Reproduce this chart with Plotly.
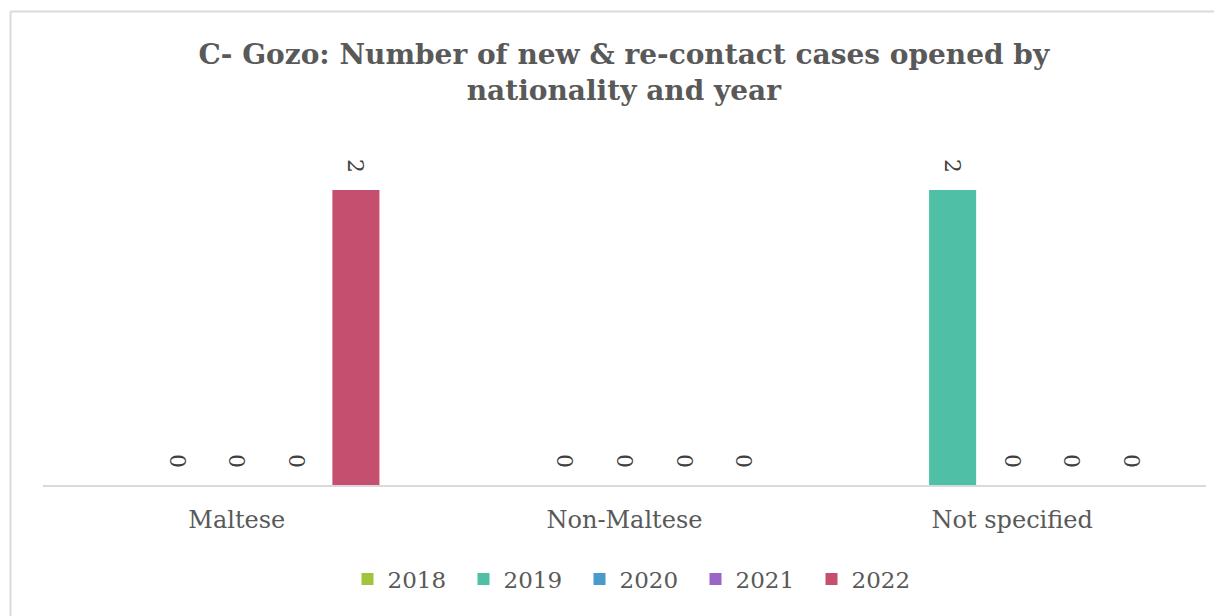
import plotly.graph_objects as go

categories = ["Maltese", "Non-Maltese", "Not specified"]
years = ["2018", "2019", "2020", "2021", "2022"]
values_2018 = [None, None, None]
values_2019 = [0, 0, 2]
values_2020 = [0, 0, 0]
values_2021 = [0, 0, 0]
values_2022 = [2, 0, 0]
series = [values_2018, values_2019, values_2020, values_2021, values_2022]
colors = ["#A0C43C", "#4FBFA5", "#4A9BCC", "#9966C6", "#C54F6F"]

FONT = "DejaVu Serif"
PAD = "\u00a0\u00a0"

fig = go.Figure()
for name, vals, col in zip(years, series, colors):
    fig.add_trace(go.Bar(
        x=categories, y=vals, name=name, marker=dict(color=col, line=dict(width=0)),
        text=[None if v is None else str(v) + PAD for v in vals],
        textposition="outside", textangle=90, constraintext="none", cliponaxis=False,
        textfont=dict(family=FONT, size=22, color="#404040"),
    ))

# page offset of 8px (body margin) compensated
L, R, T, B = 35, 24, 132, 139
W, H = 1222, 616
pw, ph = W - L - R, H - T - B

def px_x(px):
    return (px - L) / pw

def px_y(py):
    return (H - B - py) / ph

fig.update_layout(
    width=W, height=H,
    margin=dict(l=L, r=R, t=T, b=B),
    paper_bgcolor="white", plot_bgcolor="white",
    barmode="group", bargap=0.232, bargroupgap=0.21,
    title=dict(
        text="<b>C- Gozo: Number of new & re-contact cases opened by<br>nationality and year</b>",
        x=0.504, xanchor="center", y=0.909, yanchor="middle",
        font=dict(family=FONT, size=28, color="#595959"),
    ),
    showlegend=True,
    legend=dict(
        orientation="h", x=px_x(629.5), xanchor="center", y=px_y(571), yanchor="middle",
        font=dict(family=FONT, size=23, color="#595959"),
        itemwidth=30, traceorder="normal",
        entrywidth=71, entrywidthmode="pixels",
    ),
    xaxis=dict(
        showline=True, linecolor="#D9D9D9", linewidth=2, ticks="",
        tickfont=dict(family=FONT, size=24, color="#595959"), showgrid=False,
        ticklabelstandoff=12,
    ),
    yaxis=dict(range=[0, 2.339], visible=False, showgrid=False, zeroline=False),
    shapes=[
        dict(type="line", xref="paper", yref="paper", x0=px_x(2.5), x1=px_x(1240),
             y0=px_y(3.5), y1=px_y(3.5), line=dict(color="#D9D9D9", width=2)),
        dict(type="line", xref="paper", yref="paper", x0=px_x(2.5), x1=px_x(2.5),
             y0=px_y(3.5), y1=px_y(640), line=dict(color="#D9D9D9", width=2)),
    ],
)

fig.write_html("out.html")
